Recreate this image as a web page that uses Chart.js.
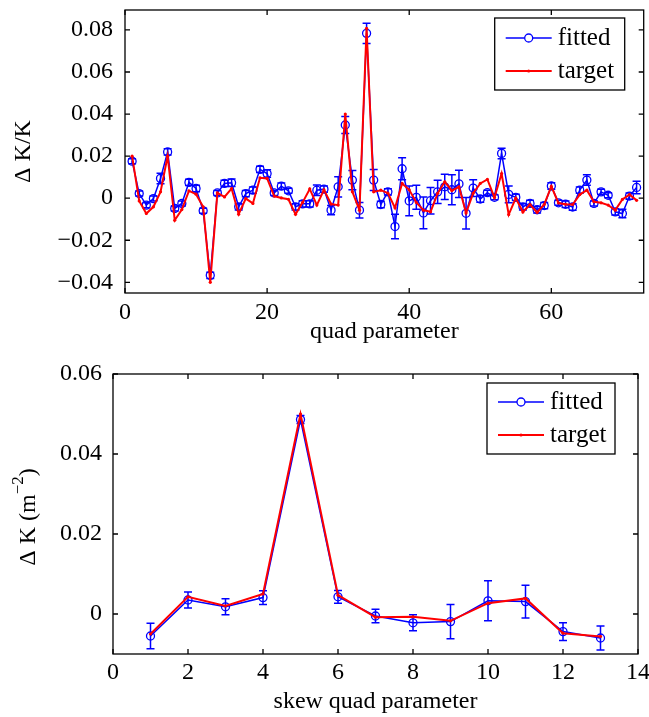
<!DOCTYPE html>
<html>
<head>
<meta charset="utf-8">
<script src="https://cdn.jsdelivr.net/npm/chart.js@4.4.1/dist/chart.umd.min.js"></script>
<style>
  html, body { margin: 0; padding: 0; background: #fff; }
  #wrap { position: relative; width: 649px; height: 717px; }
  #quadChart { position: absolute; left: 0; top: 0; }
  #skewChart { position: absolute; left: 0; top: 360px; }
</style>
</head>
<body>
<div id="wrap">
  <canvas id="quadChart" width="649" height="355"></canvas>
  <canvas id="skewChart" width="649" height="357"></canvas>
</div>
<script>
// top panel: quad parameters 1..72
const quadIndex = [1, 2, 3, 4, 5, 6, 7, 8, 9, 10, 11, 12, 13, 14, 15, 16, 17, 18, 19, 20,
  21, 22, 23, 24, 25, 26, 27, 28, 29, 30, 31, 32, 33, 34, 35, 36, 37, 38, 39, 40,
  41, 42, 43, 44, 45, 46, 47, 48, 49, 50, 51, 52, 53, 54, 55, 56, 57, 58, 59, 60,
  61, 62, 63, 64, 65, 66, 67, 68, 69, 70, 71, 72];
const quadFitted = [0.0176, 0.0022, -0.0033, -0.0002, 0.0094, 0.0220, -0.0049, -0.0025, 0.0075, 0.0046,
  -0.0060, -0.0367, 0.0025, 0.0070, 0.0073, -0.0041, 0.0022, 0.0038, 0.0137, 0.0117,
  0.0025, 0.0057, 0.0035, -0.0041, -0.0027, -0.0027, 0.0038, 0.0043, -0.0057, 0.0054,
  0.0348, 0.0086, -0.0057, 0.0784, 0.0086, -0.0030, 0.0030, -0.0135, 0.0140, -0.0013,
  0.0004, -0.0070, -0.0012, 0.0030, 0.0054, 0.0040, 0.0068, -0.0072, 0.0048, -0.0004,
  0.0026, 0.0004, 0.0213, 0.0018, 0.0004, -0.0041, -0.0025, -0.0055, -0.0035, 0.0058,
  -0.0022, -0.0029, -0.0042, 0.0038, 0.0086, -0.0025, 0.0030, 0.0014, -0.0065, -0.0073,
  0.0010, 0.0051];
const quadTarget = [0.0200, -0.0013, -0.0073, -0.0041, 0.0030, 0.0200, -0.0105, -0.0054, 0.0035, 0.0019,
  -0.0041, -0.0400, 0.0025, 0.0006, 0.0046, -0.0076, -0.0002, -0.0025, 0.0097, 0.0094,
  0.0010, 0.0001, -0.0005, -0.0077, -0.0020, 0.0044, -0.0033, 0.0040, -0.0028, -0.0033,
  0.0400, 0.0030, -0.0057, 0.0808, 0.0030, 0.0038, 0.0024, -0.0046, 0.0070, 0.0040,
  -0.0020, -0.0057, -0.0065, 0.0023, 0.0078, 0.0036, 0.0054, -0.0070, 0.0024, 0.0070,
  0.0089, 0.0003, 0.0117, -0.0078, 0.0000, -0.0066, -0.0030, -0.0068, -0.0030, 0.0056,
  -0.0023, -0.0029, -0.0030, 0.0017, 0.0038, -0.0017, -0.0022, -0.0033, -0.0057, -0.0006,
  0.0017, -0.0010];
const quadErr = [0.0012, 0.0012, 0.0012, 0.0012, 0.0025, 0.0015, 0.0012, 0.0012, 0.0015, 0.0015,
  0.0012, 0.0015, 0.0012, 0.0015, 0.0018, 0.0015, 0.0015, 0.0015, 0.0015, 0.0018,
  0.0012, 0.0015, 0.0012, 0.0015, 0.0015, 0.0015, 0.0025, 0.0015, 0.0022, 0.0048,
  0.0040, 0.0046, 0.0037, 0.0048, 0.0050, 0.0015, 0.0015, 0.0058, 0.0052, 0.0071,
  0.0057, 0.0075, 0.0063, 0.0055, 0.0060, 0.0071, 0.0065, 0.0075, 0.0040, 0.0015,
  0.0012, 0.0012, 0.0025, 0.0040, 0.0015, 0.0015, 0.0015, 0.0015, 0.0015, 0.0015,
  0.0012, 0.0015, 0.0015, 0.0015, 0.0025, 0.0012, 0.0012, 0.0012, 0.0015, 0.0020,
  0.0015, 0.0030];
const quadXTicks = [0, 20, 40, 60];
const quadYTicks = [-0.04, -0.02, 0, 0.02, 0.04, 0.06, 0.08];

// bottom panel: skew quad parameters 1..13
const skewIndex = [1, 2, 3, 4, 5, 6, 7, 8, 9, 10, 11, 12, 13];
const skewFitted = [-0.0055, 0.0035, 0.0018, 0.0041, 0.0486, 0.0043, -0.0005, -0.0022, -0.0019, 0.0033, 0.0031, -0.0044, -0.0060];
const skewTarget = [-0.0050, 0.0043, 0.0020, 0.0050, 0.0500, 0.0047, -0.0008, -0.0007, -0.0017, 0.0027, 0.0039, -0.0048, -0.0056];
const skewErr = [0.0032, 0.0020, 0.0020, 0.0017, 0.0010, 0.0016, 0.0017, 0.0020, 0.0043, 0.0050, 0.0041, 0.0022, 0.0030];
const skewXTicks = [0, 2, 4, 6, 8, 10, 12, 14];
const skewYTicks = [0, 0.02, 0.04, 0.06];

const FONT = "'Liberation Serif', 'Times New Roman', serif";
const FS = 24;
const BLUE = "#0000ff";
const RED = "#ff0000";

function fmtTick(v) {
  if (Math.abs(v) < 1e-12) return "0";
  const s = String(+Math.abs(v).toFixed(4));
  return v < 0 ? "\u2212" + s : s;
}

// error bars under the fitted series
const errorBars = {
  id: "errorBars",
  beforeDatasetsDraw(chart, args, opts) {
    const { ctx, chartArea, scales } = chart;
    const xs = opts.xs, ys = opts.ys, es = opts.es;
    ctx.save();
    ctx.beginPath();
    ctx.rect(chartArea.left, chartArea.top, chartArea.right - chartArea.left, chartArea.bottom - chartArea.top);
    ctx.clip();
    ctx.strokeStyle = BLUE;
    ctx.lineWidth = 1.5;
    xs.forEach((x, i) => {
      const px = scales.x.getPixelForValue(x);
      const y1 = scales.y.getPixelForValue(ys[i] + es[i]);
      const y2 = scales.y.getPixelForValue(ys[i] - es[i]);
      ctx.beginPath();
      ctx.moveTo(px, y1); ctx.lineTo(px, y2);
      ctx.moveTo(px - 4, y1); ctx.lineTo(px + 4, y1);
      ctx.moveTo(px - 4, y2); ctx.lineTo(px + 4, y2);
      ctx.stroke();
    });
    ctx.restore();
  }
};

// matlab style box, inward ticks, axis titles and legend
const frame = {
  id: "frame",
  afterDraw(chart, args, opts) {
    const { ctx, chartArea: a, scales } = chart;
    ctx.save();
    ctx.strokeStyle = "#000";
    ctx.lineWidth = 1.3;
    ctx.strokeRect(a.left, a.top, a.right - a.left, a.bottom - a.top);
    ctx.beginPath();
    scales.x.ticks.forEach(t => {
      const px = scales.x.getPixelForValue(t.value);
      ctx.moveTo(px, a.bottom); ctx.lineTo(px, a.bottom - 5);
      ctx.moveTo(px, a.top); ctx.lineTo(px, a.top + 5);
    });
    scales.y.ticks.forEach(t => {
      const py = scales.y.getPixelForValue(t.value);
      ctx.moveTo(a.left, py); ctx.lineTo(a.left + 5, py);
      ctx.moveTo(a.right, py); ctx.lineTo(a.right - 5, py);
    });
    ctx.stroke();

    ctx.fillStyle = "#000";
    ctx.font = FS + "px " + FONT;
    ctx.textAlign = "center";
    ctx.textBaseline = "middle";
    ctx.fillText(opts.xTitle, (a.left + a.right) / 2, opts.xTitleY);

    // rotated y title, optional superscript part
    ctx.save();
    ctx.translate(opts.yTitleX, (a.top + a.bottom) / 2 + (opts.yTitleShift || 0));
    ctx.rotate(-Math.PI / 2);
    ctx.textAlign = "left";
    const main = opts.yTitle, sup = opts.yTitleSup || "", tail = opts.yTitleTail || "";
    ctx.font = FS + "px " + FONT;
    const w1 = ctx.measureText(main).width;
    const w3 = ctx.measureText(tail).width;
    ctx.font = "17px " + FONT;
    const w2 = ctx.measureText(sup).width;
    const x0 = -(w1 + w2 + w3) / 2;
    ctx.font = FS + "px " + FONT;
    ctx.fillText(main, x0, 0);
    ctx.font = "17px " + FONT;
    ctx.fillText(sup, x0 + w1, -10);
    ctx.font = FS + "px " + FONT;
    ctx.fillText(tail, x0 + w1 + w2, 0);
    ctx.restore();

    // legend box
    const L = opts.legend;
    const lx = a.right - L.right - L.w, ly = a.top + L.top;
    ctx.fillStyle = "#fff";
    ctx.fillRect(lx, ly, L.w, L.h);
    ctx.lineWidth = 1.3;
    ctx.strokeStyle = "#000";
    ctx.strokeRect(lx, ly, L.w, L.h);
    const rows = [
      { label: "fitted", color: BLUE, marker: "circle" },
      { label: "target", color: RED, marker: "dot" }
    ];
    rows.forEach((r, k) => {
      const yy = ly + L.row0 + k * L.rowGap;
      const x1 = lx + 11, x2 = lx + 57;
      ctx.strokeStyle = r.color;
      ctx.lineWidth = r.marker === "dot" ? 2 : 1.5;
      ctx.beginPath(); ctx.moveTo(x1, yy); ctx.lineTo(x2, yy); ctx.stroke();
      ctx.beginPath();
      if (r.marker === "circle") {
        ctx.lineWidth = 1.3;
        ctx.arc((x1 + x2) / 2, yy, 4, 0, Math.PI * 2);
        ctx.fillStyle = "#fff"; ctx.fill(); ctx.stroke();
      } else {
        ctx.fillStyle = r.color;
        ctx.arc((x1 + x2) / 2, yy, 1.6, 0, Math.PI * 2);
        ctx.fill();
      }
      ctx.fillStyle = "#000";
      ctx.font = (FS + 1) + "px " + FONT;
      ctx.textAlign = "left";
      ctx.textBaseline = "middle";
      ctx.fillText(r.label, x2 + 6, yy);
    });
    ctx.restore();
  }
};

function points(xs, ys) {
  return xs.map((x, i) => ({ x: x, y: ys[i] }));
}

function noPad(s) {
  s.paddingLeft = 0; s.paddingRight = 0; s.paddingTop = 0; s.paddingBottom = 0;
}

function makeChart(id, cfg) {
  return new Chart(document.getElementById(id), {
    type: "line",
    data: {
      datasets: [
        {
          label: "fitted",
          data: points(cfg.xs, cfg.fitted),
          borderColor: BLUE,
          borderWidth: 1.5,
          pointRadius: 4,
          pointBorderWidth: 1.3,
          pointBorderColor: BLUE,
          pointBackgroundColor: "rgba(0,0,0,0)",
          tension: 0,
          order: 1
        },
        {
          label: "target",
          data: points(cfg.xs, cfg.target),
          borderColor: RED,
          borderWidth: 2,
          pointRadius: 1.6,
          pointBorderWidth: 0,
          pointBackgroundColor: RED,
          tension: 0,
          order: 0
        }
      ]
    },
    options: {
      responsive: false,
      animation: false,
      layout: { padding: cfg.padding },
      plugins: {
        legend: { display: false },
        tooltip: { enabled: false },
        errorBars: { xs: cfg.xs, ys: cfg.fitted, es: cfg.err },
        frame: cfg.frame
      },
      scales: {
        x: {
          type: "linear",
          min: cfg.xMin,
          max: cfg.xMax,
          grid: { display: false, drawTicks: false },
          border: { display: false },
          afterBuildTicks: s => { s.ticks = cfg.xTicks.map(v => ({ value: v })); },
          afterFit: s => { s.height = cfg.xAxisH; noPad(s); },
          ticks: {
            color: "#000",
            font: { family: FONT, size: FS },
            padding: cfg.xTickPad,
            maxRotation: 0,
            autoSkip: false,
            callback: v => fmtTick(v)
          }
        },
        y: {
          min: cfg.yMin,
          max: cfg.yMax,
          grid: { display: false, drawTicks: false },
          border: { display: false },
          afterBuildTicks: s => { s.ticks = cfg.yTicks.map(v => ({ value: v })); },
          afterFit: s => { s.width = cfg.yAxisW; noPad(s); },
          ticks: {
            color: "#000",
            font: { family: FONT, size: FS },
            padding: cfg.yTickPad,
            autoSkip: false,
            callback: v => fmtTick(v)
          }
        }
      }
    },
    plugins: [errorBars, frame]
  });
}

makeChart("quadChart", {
  xs: quadIndex, fitted: quadFitted, target: quadTarget, err: quadErr,
  xTicks: quadXTicks, yTicks: quadYTicks,
  xMin: 0, xMax: 73, yMin: -0.0451, yMax: 0.0895,
  padding: { left: 0, right: 3, top: 10, bottom: 0 },
  yAxisW: 125, xAxisH: 62, xTickPad: 5, yTickPad: 12,
  frame: {
    xTitle: "quad parameter", xTitleY: 332,
    yTitle: "\u0394 K/K", yTitleX: 24,
    legend: { right: 19, top: 8, w: 130, h: 72, row0: 20, rowGap: 33 }
  }
});

makeChart("skewChart", {
  xs: skewIndex, fitted: skewFitted, target: skewTarget, err: skewErr,
  xTicks: skewXTicks, yTicks: skewYTicks,
  xMin: 0, xMax: 14, yMin: -0.01, yMax: 0.06,
  padding: { left: 0, right: 11, top: 14, bottom: 0 },
  yAxisW: 113, xAxisH: 63, xTickPad: 4, yTickPad: 11,
  frame: {
    xTitle: "skew quad parameter", xTitleY: 342,
    yTitle: "\u0394 K (m", yTitleSup: "\u22122", yTitleTail: ")", yTitleX: 29, yTitleShift: 3,
    legend: { right: 23, top: 9, w: 128, h: 71, row0: 19, rowGap: 33 }
  }
});
</script>
</body>
</html>
